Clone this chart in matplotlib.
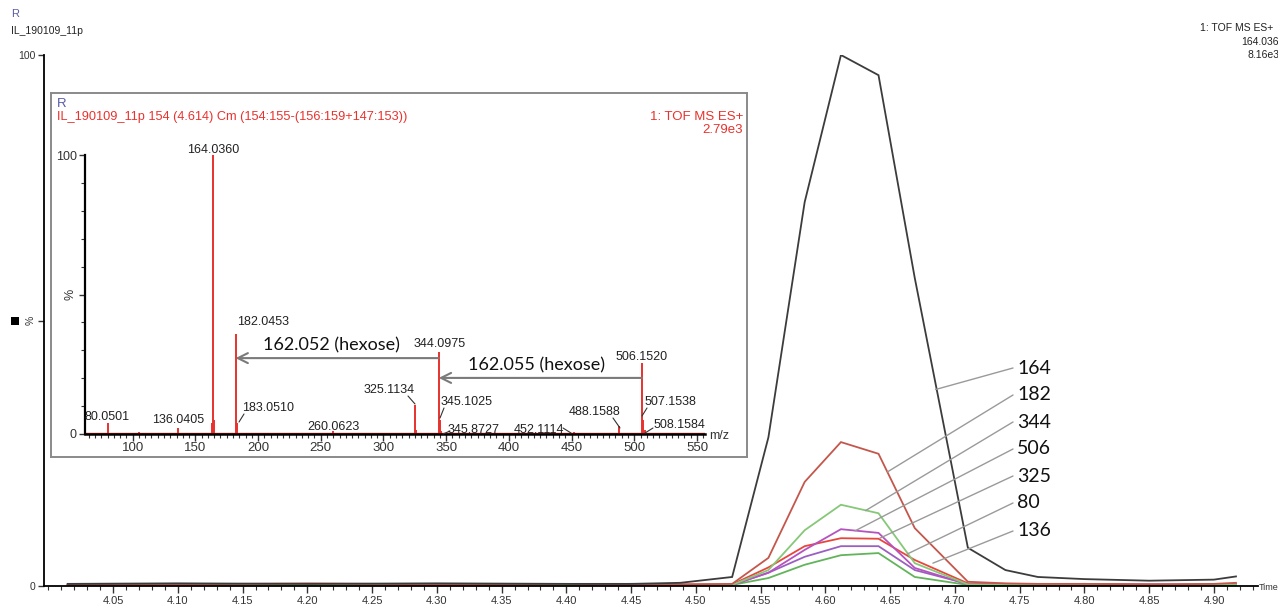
import matplotlib
matplotlib.use("Agg")
import matplotlib.pyplot as plt
from matplotlib.patches import Rectangle
from matplotlib.ticker import MultipleLocator, FixedLocator

W, H, DPI = 1278, 604, 100
SMALL = "Liberation Sans"
BIG = "Lato"

# ---- extracted ion chromatograms (relative intensity, %) ----
time = [4.015, 4.10, 4.20, 4.30, 4.40, 4.45, 4.488, 4.528, 4.556, 4.584,
        4.612, 4.641, 4.669, 4.710, 4.739, 4.764, 4.800, 4.850, 4.900, 4.917]
ion_164 = [0.4, 0.5, 0.4, 0.5, 0.4, 0.4, 0.6, 1.7, 28.0, 72.3,
           100.0, 96.2, 58.0, 7.2, 3.0, 1.7, 1.3, 1.0, 1.2, 1.8]
ion_182 = [0.2, 0.3, 0.5, 0.3, 0.4, 0.3, 0.3, 0.4, 5.3, 19.6,
           27.1, 24.9, 10.9, 0.8, 0.5, 0.4, 0.4, 0.3, 0.4, 0.6]
ion_344 = [0.2, 0.2, 0.2, 0.3, 0.2, 0.3, 0.2, 0.2, 3.0, 10.5,
           15.3, 13.7, 4.3, 0.3, 0.2, 0.2, 0.3, 0.2, 0.2, 0.3]
ion_506 = [0.3, 0.2, 0.3, 0.2, 0.3, 0.2, 0.2, 0.2, 2.5, 6.8,
           10.7, 10.0, 3.4, 0.3, 0.3, 0.2, 0.2, 0.3, 0.2, 0.3]
ion_325 = [0.3, 0.4, 0.3, 0.2, 0.3, 0.4, 0.3, 0.3, 3.5, 7.5,
           9.0, 8.9, 4.9, 0.5, 0.4, 0.3, 0.4, 0.3, 0.3, 0.4]
ion_80 = [0.2, 0.3, 0.2, 0.3, 0.2, 0.2, 0.2, 0.2, 2.5, 5.5,
          7.5, 7.5, 3.0, 0.4, 0.3, 0.2, 0.3, 0.2, 0.2, 0.3]
ion_136 = [0.2, 0.2, 0.3, 0.2, 0.2, 0.3, 0.2, 0.2, 1.5, 4.0,
           5.8, 6.2, 1.7, 0.2, 0.2, 0.2, 0.2, 0.2, 0.2, 0.2]

trace_labels = ["164", "182", "344", "506", "325", "80", "136"]
traces = [ion_164, ion_182, ion_344, ion_506, ion_325, ion_80, ion_136]
trace_colors = ["#3c3c3c", "#c4574c", "#86c878", "#b652c0", "#e8463c", "#9a5fc0", "#62b45a"]
# point on each trace where its callout line ends (time, %)
callout_time = [4.685, 4.648, 4.631, 4.623, 4.642, 4.663, 4.683]
callout_int = [37.0, 21.5, 14.2, 10.4, 9.0, 6.0, 4.3]

time_ticks = [4.05, 4.10, 4.15, 4.20, 4.25, 4.30, 4.35, 4.40, 4.45,
              4.50, 4.55, 4.60, 4.65, 4.70, 4.75, 4.80, 4.85, 4.90]

# ---- mass spectrum at 4.614 min ----
mz = [80.0501, 105.0, 136.0405, 163.5, 164.0360, 165.04, 182.0453, 183.0510,
      200.0, 260.0623, 290.0, 325.1134, 326.12, 344.0975, 345.1025, 345.8727,
      400.0, 452.1114, 470.0, 488.1588, 506.1520, 507.1538, 508.1584]
rel_int = [4.0, 0.8, 2.0, 4.0, 100.0, 5.0, 36.0, 4.0,
           0.5, 1.0, 0.5, 10.4, 1.5, 29.5, 5.0, 1.0,
           0.5, 0.8, 0.5, 3.0, 25.5, 5.0, 1.5]
mz_ticks = [100, 150, 200, 250, 300, 350, 400, 450, 500, 550]

# labelled peaks: m/z, label pixel position, alignment, leader (from, to) in pixels
peak_labels = [
    (164.0360, (213, 150), "center", None),
    (182.0453, (237, 322), "left", None),
    (344.0975, (440, 344), "center", None),
    (506.1520, (642, 357), "center", None),
    (325.1134, (389, 390), "center", ((408, 396), (415, 404))),
    (183.0510, (268, 408), "center", ((244, 414), (239, 422))),
    (80.0501, (107, 417), "center", None),
    (136.0405, (178, 420), "center", None),
    (260.0623, (333, 427), "center", None),
    (345.1025, (467, 402), "center", ((444, 408), (440, 418))),
    (345.8727, (474, 430), "center", ((450, 431), (443, 434))),
    (452.1114, (539, 430), "center", ((563, 428), (571, 433))),
    (488.1588, (595, 412), "center", ((613, 418), (620, 428))),
    (507.1538, (670, 402), "center", ((647, 408), (642, 416))),
    (508.1584, (679, 425), "center", ((653, 428), (645, 433))),
]


def fx(x):
    return x / W


def fy(y):
    return 1 - y / H


fig = plt.figure(figsize=(W / DPI, H / DPI), dpi=DPI)
fig.patch.set_facecolor("white")

# ---------------- main chromatogram ----------------
ax = fig.add_axes([fx(44), fy(586), (1258 - 44) / W, (586 - 55) / H])
ax.set_xlim(3.9967, 4.934)
ax.set_ylim(0, 100)
for c, ser in zip(trace_colors[::-1], traces[::-1]):
    ax.plot(time, ser, color=c, lw=1.3, solid_joinstyle="miter")
for s in ("top", "right"):
    ax.spines[s].set_visible(False)
ax.spines["left"].set_linewidth(1.3)
ax.spines["bottom"].set_linewidth(1.3)
ax.xaxis.set_major_locator(FixedLocator(time_ticks))
ax.set_xticklabels([f"{t:.2f}" for t in time_ticks])
ax.xaxis.set_minor_locator(MultipleLocator(0.01))
ax.tick_params(axis="x", which="major", length=5, width=1, labelsize=8, colors="#333333", pad=2)
ax.tick_params(axis="x", which="minor", length=3, width=0.8, colors="#333333")
ax.set_yticks([0, 50, 100])
ax.set_yticklabels(["0", "%", "100"])
ax.tick_params(axis="y", length=4, width=1, labelsize=7.5, colors="#333333", pad=2)
ax.get_yticklabels()[1].set_rotation(90)
ax.get_yticklabels()[1].set_va("center")
for lab in ax.get_xticklabels() + ax.get_yticklabels():
    lab.set_fontfamily(SMALL)

# callouts for the traces
label_y = [368, 395, 422, 449, 476, 503, 531]
for name, ly, ct, ci in zip(trace_labels, label_y, callout_time, callout_int):
    ax.annotate("", xy=(ct, ci), xycoords="data",
                xytext=(fx(1013), fy(ly)), textcoords="figure fraction",
                arrowprops=dict(arrowstyle="-", color="#9a9a9a", lw=1.0,
                                shrinkA=0, shrinkB=0))
    fig.text(fx(1017), fy(ly), name, fontsize=14, family=BIG, color="#111111",
             ha="left", va="center")

# headers
fig.text(fx(11), fy(14), "R", fontsize=8, family=SMALL, color="#5a5aa8", va="center")
fig.text(fx(11), fy(31), "IL_190109_11p", fontsize=7.5, family=SMALL, color="#222222", va="center")
fig.text(fx(1273), fy(28), "1: TOF MS ES+", fontsize=7.5, family=SMALL, color="#222222",
         ha="right", va="center")
fig.text(fx(1284), fy(42), "164.0360", fontsize=7.5, family=SMALL, color="#222222",
         ha="right", va="center")
fig.text(fx(1280), fy(55), "8.16e3", fontsize=7.5, family=SMALL, color="#222222",
         ha="right", va="center")
fig.text(fx(1259), fy(588), "Time", fontsize=6.5, family=SMALL, color="#333333",
         ha="left", va="center")
fig.patches.append(Rectangle((fx(11), fy(325)), 8 / W, 8 / H, transform=fig.transFigure,
                             facecolor="black", edgecolor="none"))

# ---------------- inset spectrum ----------------
frame = fig.add_axes([fx(51), fy(457), (747 - 51) / W, (457 - 93) / H], zorder=2)
frame.set_xticks([])
frame.set_yticks([])
frame.set_facecolor("white")
for s in frame.spines.values():
    s.set_color("#8a8a8a")
    s.set_linewidth(1.4)

ins = fig.add_axes([fx(85), fy(434), (704.5 - 85) / W, (434 - 155) / H], zorder=3)
ins.patch.set_alpha(0)
ins.set_xlim(62, 556)
ins.set_ylim(0, 100)
ins.vlines(mz, 0, rel_int, color="#e8322d", lw=1.4)
ins.axhline(0.3, color="#e8322d", lw=1.0, xmin=0.0, xmax=1.0)
for s in ("top", "right"):
    ins.spines[s].set_visible(False)
ins.spines["left"].set_linewidth(1.6)
ins.spines["bottom"].set_linewidth(1.8)
ins.xaxis.set_major_locator(FixedLocator(mz_ticks))
ins.xaxis.set_minor_locator(MultipleLocator(5))
ins.tick_params(axis="x", which="major", length=5, width=1, labelsize=9.5, colors="#333333", pad=1)
ins.tick_params(axis="x", which="minor", length=3, width=0.8, colors="#333333")
ins.set_yticks([0, 50, 100])
ins.set_yticklabels(["0", "%", "100"])
ins.yaxis.set_minor_locator(MultipleLocator(10))
ins.tick_params(axis="y", which="major", length=4, width=1, labelsize=9, colors="#333333", pad=2)
ins.tick_params(axis="y", which="minor", length=3, width=0.8, colors="#333333")
ins.get_yticklabels()[1].set_rotation(90)
ins.get_yticklabels()[1].set_va("center")
for lab in ins.get_xticklabels() + ins.get_yticklabels():
    lab.set_fontfamily(SMALL)

fig.text(fx(57), fy(104), "R", fontsize=9.5, family=SMALL, color="#5a5aa8", va="center", zorder=4)
fig.text(fx(57), fy(117), "IL_190109_11p 154 (4.614) Cm (154:155-(156:159+147:153))",
         fontsize=9.2, family=SMALL, color="#e8322d", va="center", zorder=4)
fig.text(fx(743), fy(117), "1: TOF MS ES+", fontsize=9.5, family=SMALL, color="#e8322d",
         ha="right", va="center", zorder=4)
fig.text(fx(743), fy(130), "2.79e3", fontsize=9.5, family=SMALL, color="#e8322d",
         ha="right", va="center", zorder=4)
fig.text(fx(709), fy(436), "m/z", fontsize=9, family=SMALL, color="#333333",
         ha="left", va="center", zorder=4)

for m, (lx, ly), ha, leader in peak_labels:
    fig.text(fx(lx), fy(ly), f"{m:.4f}", fontsize=9, family=SMALL, color="#222222",
             ha=ha, va="center", zorder=4)
    if leader is not None:
        (x0, y0), (x1, y1) = leader
        ins.annotate("", xy=(fx(x1), fy(y1)), xycoords="figure fraction",
                     xytext=(fx(x0), fy(y0)), textcoords="figure fraction",
                     arrowprops=dict(arrowstyle="-", color="#333333", lw=0.8,
                                     shrinkA=0, shrinkB=0))

# neutral-loss arrows between the glycoside fragments
ins.annotate("", xy=(182.0453, 27.2), xytext=(344.0975, 27.2),
             arrowprops=dict(arrowstyle="->", color="#7a7a7a", lw=1.5,
                             mutation_scale=18, shrinkA=0, shrinkB=0))
ins.annotate("", xy=(344.0975, 20.1), xytext=(506.1520, 20.1),
             arrowprops=dict(arrowstyle="->", color="#7a7a7a", lw=1.5,
                             mutation_scale=18, shrinkA=0, shrinkB=0))
fig.text(fx(263), fy(345), "162.052 (hexose)", fontsize=13, family=BIG, color="#111111",
         ha="left", va="center", zorder=4)
fig.text(fx(468), fy(365), "162.055 (hexose)", fontsize=13, family=BIG, color="#111111",
         ha="left", va="center", zorder=4)

fig.savefig("out.png", dpi=DPI, facecolor="white")
